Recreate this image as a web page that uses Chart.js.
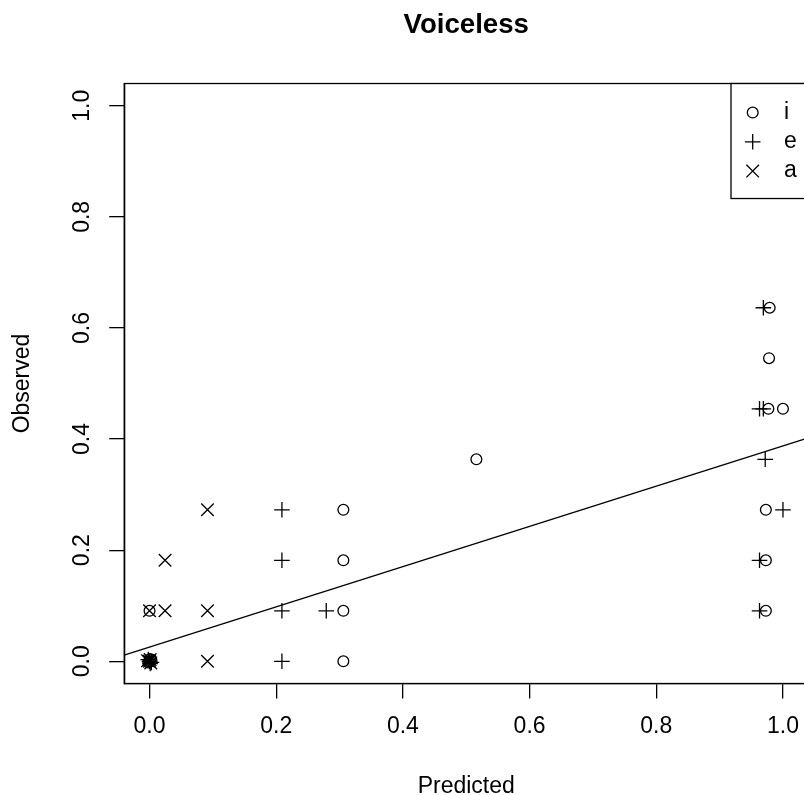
<!DOCTYPE html>
<html>
<head>
<meta charset="utf-8">
<title>Voiceless</title>
<script src="https://cdn.jsdelivr.net/npm/chart.js@4.4.1/dist/chart.umd.min.js"></script>
<style>
  html, body { margin: 0; padding: 0; background: #fff; overflow: hidden; }
  #wrap { width: 804px; height: 795px; overflow: hidden; position: relative; }
  #plot { position: absolute; left: 0; top: 0; }
</style>
</head>
<body>
<div id="wrap"><canvas id="plot" width="830" height="795"></canvas></div>
<script>
// values; the pile at (0,0) holds many near-identical points
const seriesNames = ['i', 'e', 'a'];

const iX = [0, 0.003, -0.002, 0.001, 0, 0.306, 0.306, 0.306, 0.306, 0.516, 0.973, 0.973, 0.973, 0.977, 1.0, 0.978, 0.979];
const iY = [0, 0.002, -0.002, 0.004, 0.0909, 0, 0.0909, 0.1818, 0.2727, 0.3636, 0.0909, 0.1818, 0.2727, 0.4545, 0.4545, 0.5455, 0.6364];

const eX = [0, -0.002, 0.003, 0.001, 0.209, 0.209, 0.209, 0.209, 0.279, 0.963, 0.963, 1.0, 0.972, 0.963, 0.969, 0.969];
const eY = [0, 0.003, -0.002, -0.004, 0, 0.0909, 0.1818, 0.2727, 0.0909, 0.0909, 0.1818, 0.2727, 0.3636, 0.4545, 0.4545, 0.6364];

const aX = [0, 0.002, -0.003, 0.001, 0, 0.0245, 0.0245, 0.0915, 0.0915, 0.0915];
const aY = [0, -0.003, 0.001, 0.003, 0.0909, 0.0909, 0.1818, 0, 0.0909, 0.2727];

// fitted line, end points at the plot edges
const fitX = [-0.04, 1.04];
const fitY = [0.011, 0.402];

const xTicks = [0, 0.2, 0.4, 0.6, 0.8, 1.0];
const yTicks = [0, 0.2, 0.4, 0.6, 0.8, 1.0];

function pts(xs, ys) {
  return xs.map((x, k) => ({ x: x, y: ys[k] }));
}

Chart.defaults.font.family = '"Liberation Sans", Arial, Helvetica, sans-serif';
Chart.defaults.color = '#000';

const ink = '#000';
const marks = [
  { style: 'circle', radius: 5.4 },
  { style: 'cross', radius: 7.8 },
  { style: 'crossRot', radius: 8.9 }
];

function drawMark(ctx, style, r, x, y) {
  ctx.beginPath();
  if (style === 'circle') {
    ctx.arc(x, y, r, 0, Math.PI * 2);
  } else if (style === 'cross') {
    ctx.moveTo(x - r, y); ctx.lineTo(x + r, y);
    ctx.moveTo(x, y - r); ctx.lineTo(x, y + r);
  } else {
    const d = r * Math.SQRT1_2;
    ctx.moveTo(x - d, y - d); ctx.lineTo(x + d, y + d);
    ctx.moveTo(x - d, y + d); ctx.lineTo(x + d, y - d);
  }
  ctx.stroke();
}

// box round the plot and the legend in the top right corner
const boxPlugin = {
  id: 'rBox',
  afterDraw(chart) {
    const ctx = chart.ctx;
    const a = chart.chartArea;
    ctx.save();
    ctx.strokeStyle = ink;
    ctx.lineWidth = 1.3;
    ctx.strokeRect(a.left, a.top, a.right - a.left, a.bottom - a.top);

    const bx = 731, by = a.top, bh = 115;
    ctx.fillStyle = '#fff';
    ctx.fillRect(bx, by, a.right - bx, bh);
    ctx.strokeRect(bx, by, a.right - bx, bh);

    ctx.font = '23px "Liberation Sans", Arial, sans-serif';
    ctx.textBaseline = 'middle';
    ctx.textAlign = 'left';
    ctx.fillStyle = ink;
    seriesNames.forEach((name, k) => {
      const y = by + 29 + k * 29.3;
      drawMark(ctx, marks[k].style, marks[k].radius, 752.7, y);
      ctx.fillText(name, 784, y);
    });
    ctx.restore();
  }
};

const dataSets = [
  { label: 'i', data: pts(iX, iY) },
  { label: 'e', data: pts(eX, eY) },
  { label: 'a', data: pts(aX, aY) }
].map((d, k) => Object.assign(d, {
  pointStyle: marks[k].style,
  pointRadius: marks[k].radius,
  pointHoverRadius: marks[k].radius,
  pointBorderColor: ink,
  pointBackgroundColor: 'rgba(0,0,0,0)',
  pointBorderWidth: 1.3
}));

dataSets.push({
  type: 'line',
  label: 'fit',
  data: pts(fitX, fitY),
  borderColor: ink,
  borderWidth: 1.3,
  pointRadius: 0,
  fill: false
});

const axisFont = { size: 23 };

new Chart(document.getElementById('plot'), {
  type: 'scatter',
  data: { datasets: dataSets },
  plugins: [boxPlugin],
  options: {
    responsive: false,
    animation: false,
    layout: { padding: { top: 0, right: 21.7, bottom: 0, left: 0 } },
    plugins: {
      legend: { display: false },
      tooltip: { enabled: false },
      title: {
        display: true,
        text: 'Voiceless',
        fullSize: false,
        color: ink,
        font: { size: 27.6, weight: 'bold' },
        padding: { top: 8.6, bottom: 41.8 }
      }
    },
    scales: {
      x: {
        type: 'linear',
        min: -0.04,
        max: 1.04,
        afterBuildTicks: s => { s.ticks = xTicks.map(v => ({ value: v })); },
        afterFit: s => { s.height = 111.5; },
        ticks: {
          padding: 14.2,
          maxRotation: 0,
          font: axisFont,
          color: ink,
          callback: v => v.toFixed(1)
        },
        grid: { drawOnChartArea: false, tickLength: 15, color: ink, lineWidth: 1.3 },
        border: { color: ink, width: 1.3 },
        title: {
          display: true,
          text: 'Predicted',
          color: ink,
          font: axisFont,
          padding: { top: 0, bottom: -5.8 }
        }
      },
      y: {
        type: 'linear',
        min: -0.04,
        max: 1.04,
        afterBuildTicks: s => { s.ticks = yTicks.map(v => ({ value: v })); },
        afterFit: s => { s.width = 124.2; },
        ticks: {
          minRotation: 90,
          maxRotation: 90,
          crossAlign: 'center',
          padding: 10.5,
          font: axisFont,
          color: ink,
          callback: v => v.toFixed(1)
        },
        grid: { drawOnChartArea: false, tickLength: 15, color: ink, lineWidth: 1.3 },
        border: { color: ink, width: 1.3 },
        title: {
          display: true,
          text: 'Observed',
          color: ink,
          font: axisFont,
          padding: { top: 8.7, bottom: 0 }
        }
      }
    }
  }
});
</script>
</body>
</html>
